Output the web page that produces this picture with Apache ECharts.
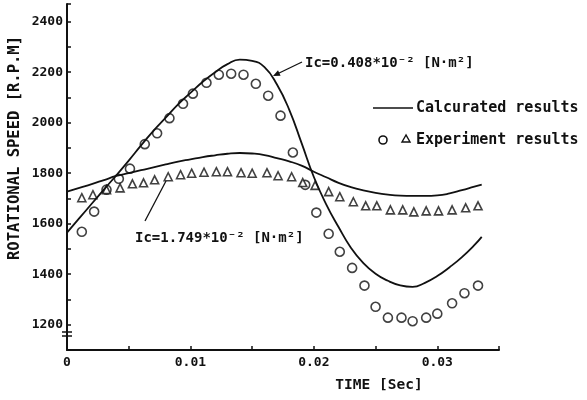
<!DOCTYPE html>
<html>
<head>
<meta charset="utf-8">
<script src="https://cdn.jsdelivr.net/npm/echarts@6/dist/echarts.min.js"></script>
<style>
  html, body { margin: 0; padding: 0; background: #fff; }
  #chart { width: 587px; height: 400px; }
</style>
</head>
<body>
<div id="chart"></div>
<script>
// calculated curves, time in seconds
const calcTime = [0, 0.001, 0.002, 0.003, 0.004, 0.005, 0.006, 0.007, 0.008, 0.009,
  0.010, 0.011, 0.012, 0.013, 0.014, 0.015, 0.016, 0.017, 0.018, 0.019,
  0.020, 0.021, 0.022, 0.023, 0.024, 0.025, 0.026, 0.027, 0.028, 0.029,
  0.030, 0.031, 0.032, 0.033, 0.0336];
const calcLowIc = [1565, 1622, 1679, 1736, 1792, 1850, 1910, 1968, 2020, 2073,
  2118, 2162, 2200, 2232, 2250, 2245, 2220, 2152, 2052, 1920,
  1785, 1677, 1587, 1505, 1445, 1402, 1374, 1356, 1350, 1366,
  1393, 1428, 1468, 1515, 1548];
const calcHighIc = [1727, 1742, 1757, 1773, 1789, 1800, 1812, 1823, 1835, 1846,
  1855, 1864, 1871, 1877, 1880, 1878, 1872, 1860, 1847, 1830,
  1806, 1784, 1762, 1745, 1732, 1722, 1715, 1711, 1710, 1710,
  1712, 1720, 1733, 1747, 1755];

// experiment results
const circleTime = [0.0012, 0.0022, 0.0032, 0.0042, 0.0051, 0.0063, 0.0073, 0.0083, 0.0094, 0.0102,
  0.0113, 0.0123, 0.0133, 0.0143, 0.0153, 0.0163, 0.0173, 0.0183, 0.0193, 0.0202,
  0.0212, 0.0221, 0.0231, 0.0241, 0.0250, 0.0260, 0.0271, 0.0280, 0.0291, 0.0300,
  0.0312, 0.0322, 0.0333];
const circleSpeed = [1568, 1648, 1735, 1778, 1818, 1915, 1958, 2018, 2075, 2115,
  2158, 2190, 2194, 2190, 2154, 2107, 2028, 1882, 1754, 1644,
  1560, 1489, 1425, 1355, 1271, 1228, 1228, 1214, 1228, 1244,
  1285, 1325, 1355];
const triTime = [0.0012, 0.0021, 0.0032, 0.0043, 0.0053, 0.0062, 0.0071, 0.0082, 0.0092, 0.0101,
  0.0111, 0.0121, 0.0130, 0.0141, 0.0150, 0.0162, 0.0171, 0.0182, 0.0191, 0.0201,
  0.0212, 0.0221, 0.0232, 0.0242, 0.0251, 0.0262, 0.0272, 0.0281, 0.0291, 0.0301,
  0.0312, 0.0323, 0.0333];
const triSpeed = [1703, 1715, 1735, 1742, 1758, 1762, 1774, 1786, 1794, 1800,
  1804, 1806, 1806, 1802, 1800, 1802, 1790, 1786, 1763, 1752,
  1727, 1707, 1687, 1671, 1671, 1655, 1655, 1647, 1651, 1651,
  1655, 1663, 1671];

const FONT = '"DejaVu Sans Mono", monospace';
const INK = '#111';

const zip = (xs, ys) => xs.map((x, i) => [x, ys[i]]);

const chart = echarts.init(document.getElementById('chart'));

const arrowHead = (tipX, tipY, fromX, fromY) => {
  const a = Math.atan2(tipY - fromY, tipX - fromX);
  const len = 7, w = 3;
  const bx = tipX - len * Math.cos(a), by = tipY - len * Math.sin(a);
  return {
    type: 'polygon',
    shape: { points: [[tipX, tipY],
      [bx + w * Math.sin(a), by - w * Math.cos(a)],
      [bx - w * Math.sin(a), by + w * Math.cos(a)]] },
    style: { fill: INK }
  };
};

const text = (x, y, str, size, extra) => Object.assign({
  type: 'text', x, y,
  style: { text: str, font: 'bold ' + size + 'px ' + FONT, fill: INK,
    textVerticalAlign: 'middle' }
}, extra || {});

chart.setOption({
  animation: false,
  backgroundColor: '#fff',
  grid: { left: 67, right: 88, top: 4, bottom: 50 },
  xAxis: {
    type: 'value', min: 0, max: 0.035, interval: 0.005,
    axisLine: { lineStyle: { color: INK, width: 2 } },
    axisTick: { inside: true, length: 4, lineStyle: { color: INK, width: 1.5 } },
    splitLine: { show: false },
    axisLabel: {
      margin: 6, color: INK, fontFamily: FONT, fontWeight: 'bold', fontSize: 13,
      formatter: v => {
        const k = Math.round(v * 1000);
        if (k % 10 !== 0) return '';
        return k === 0 ? '0' : (k / 1000).toFixed(2);
      }
    }
  },
  yAxis: {
    type: 'value', min: 1100, max: 2470, interval: 100,
    axisLine: { lineStyle: { color: INK, width: 2 } },
    axisTick: { inside: true, length: 4, lineStyle: { color: INK, width: 1.5 } },
    splitLine: { show: false },
    axisLabel: {
      margin: 4, color: INK, fontFamily: FONT, fontWeight: 'bold', fontSize: 13,
      formatter: v => (Math.round(v) % 200 === 0 ? String(Math.round(v)) : '')
    }
  },
  series: [
    { type: 'line', data: zip(calcTime, calcLowIc), smooth: true, showSymbol: false,
      lineStyle: { color: INK, width: 1.8 } },
    { type: 'line', data: zip(calcTime, calcHighIc), smooth: true, showSymbol: false,
      lineStyle: { color: INK, width: 1.8 } },
    { type: 'scatter', data: zip(circleTime, circleSpeed), symbol: 'circle', symbolSize: 9,
      itemStyle: { color: '#fff', borderColor: INK, borderWidth: 1.6 } },
    { type: 'scatter', data: zip(triTime, triSpeed), symbol: 'triangle', symbolSize: 8,
      itemStyle: { color: '#fff', borderColor: INK, borderWidth: 1.6 } }
  ],
  graphic: [
    // axis names
    text(15, 148, 'ROTATIONAL SPEED [R.P.M]', 15.5,
      { rotation: Math.PI / 2, style: { text: 'ROTATIONAL SPEED [R.P.M]', font: 'bold 15.5px ' + FONT,
        fill: INK, align: 'center', verticalAlign: 'middle' } }),
    text(379, 385, 'TIME [Sec]', 14.5,
      { style: { text: 'TIME [Sec]', font: 'bold 14.5px ' + FONT, fill: INK,
        align: 'center', verticalAlign: 'middle' } }),
    // y-axis break mark
    { type: 'line', shape: { x1: 62, y1: 332, x2: 72, y2: 332 }, style: { stroke: INK, lineWidth: 1.5 } },
    { type: 'line', shape: { x1: 62, y1: 336, x2: 72, y2: 336 }, style: { stroke: INK, lineWidth: 1.5 } },
    // annotation: Ic = 0.408
    { type: 'line', shape: { x1: 302, y1: 62, x2: 275, y2: 75 }, style: { stroke: INK, lineWidth: 1.3 } },
    arrowHead(273, 76, 302, 62),
    text(305, 63, 'Ic=0.408*10⁻² [N·m²]', 14),
    // annotation: Ic = 1.749
    { type: 'line', shape: { x1: 145, y1: 221, x2: 166, y2: 181 }, style: { stroke: INK, lineWidth: 1.3 } },
    text(135, 238, 'Ic=1.749*10⁻² [N·m²]', 14),
    // legend
    { type: 'line', shape: { x1: 373, y1: 108, x2: 413, y2: 108 }, style: { stroke: INK, lineWidth: 1.5 } },
    text(416, 108, 'Calcurated results', 15),
    { type: 'circle', shape: { cx: 383, cy: 140, r: 4 }, style: { fill: '#fff', stroke: INK, lineWidth: 1.6 } },
    { type: 'polygon', shape: { points: [[406, 135], [402, 142], [410, 142]] },
      style: { fill: '#fff', stroke: INK, lineWidth: 1.4 } },
    text(416, 140, 'Experiment results', 15)
  ]
});
</script>
</body>
</html>
